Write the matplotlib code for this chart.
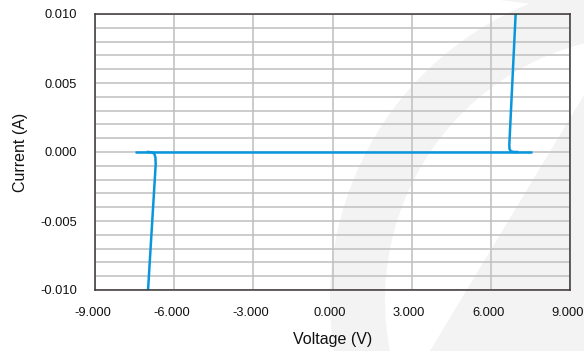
import numpy as np
import matplotlib
matplotlib.use("Agg")
import matplotlib.pyplot as plt
from matplotlib.patches import Wedge, Polygon
from matplotlib.transforms import ScaledTranslation

plt.rcParams["font.family"] = ["Liberation Sans", "DejaVu Sans"]
plt.rcParams["axes.unicode_minus"] = False

# I-V sweep of the diode: flat leakage region plus the two breakdown branches
baseline_v = [-7.48, 7.55]
baseline_i = [0.0, 0.0]

neg_branch_v = [-6.99, -6.70, -6.71, -6.75, -6.85, -7.00]
neg_branch_i = [-0.0100, -0.0009, -0.0004, -0.00012, -0.00002, 0.0]

pos_branch_v = [6.94, 6.70, 6.71, 6.76, 6.88, 7.00]
pos_branch_i = [0.0100, 0.0005, 0.0002, 0.00005, 0.0, 0.0]

x_ticks = [-9, -6, -3, 0, 3, 6, 9]
y_ticks = [-0.010, -0.005, 0.000, 0.005, 0.010]
y_grid = [round(-0.010 + 0.001 * k, 3) for k in range(21)]

line_color = "#0a96dc"
grid_color = "#bfbfbf"
frame_color = "#3c3535"
mark_gray = "#f3f3f3"

fig = plt.figure(figsize=(5.84, 3.51), dpi=100)

# faint background logo, drawn in pixel coordinates
bg = fig.add_axes([0, 0, 1, 1], zorder=0)
bg.set_xlim(0, 584)
bg.set_ylim(351, 0)
bg.axis("off")
bg.add_patch(Wedge((650, 300), 320, 100, 265, width=55, facecolor=mark_gray, edgecolor="none"))
bg.add_patch(Polygon([(584, 95), (430, 351), (584, 351)], closed=True,
                     facecolor=mark_gray, edgecolor="none"))
bg.add_patch(Polygon([(500, 0), (584, 0), (584, 15), (540, 5)], closed=True,
                     facecolor=mark_gray, edgecolor="none"))

ax = fig.add_axes([95 / 584, 1 - 290 / 351, 475 / 584, 276 / 351], zorder=1)
ax.set_facecolor("none")

ax.plot(baseline_v, baseline_i, color=line_color, lw=1.8, solid_capstyle="butt", zorder=3)
ax.plot(neg_branch_v, neg_branch_i, color=line_color, lw=1.8, solid_joinstyle="round", zorder=3)
ax.plot(pos_branch_v, pos_branch_i, color=line_color, lw=1.8, solid_joinstyle="round", zorder=3)

ax.set_xlim(-9, 9)
ax.set_ylim(-0.010, 0.010)
ax.set_xticks(x_ticks)
ax.set_xticklabels([f"{v:.3f}" for v in x_ticks])
ax.set_yticks(y_ticks)
ax.set_yticklabels([f"{v:.3f}" for v in y_ticks])
ax.tick_params(axis="both", length=0, labelsize=9.3, colors="#111111")
ax.tick_params(axis="y", pad=13)
ax.tick_params(axis="x", pad=12)

# nudge the x tick labels a little to the left so 9.000 stays inside
shift = ScaledTranslation(-2.5 / 100, 0, fig.dpi_scale_trans)
for lbl in ax.get_xticklabels():
    lbl.set_transform(lbl.get_transform() + shift)

for g in y_grid:
    ax.axhline(g, color=grid_color, lw=1.1, zorder=1)
for v in x_ticks:
    ax.axvline(v, color=grid_color, lw=1.1, zorder=1)

for s in ax.spines.values():
    s.set_color(frame_color)
    s.set_linewidth(1.1)
    s.set_zorder(4)

ax.set_xlabel("Voltage (V)", fontsize=11.5, color="#111111", labelpad=9.5)
ax.set_ylabel("Current (A)", fontsize=11.5, color="#111111", labelpad=9)

fig.savefig("out.png", dpi=100)
